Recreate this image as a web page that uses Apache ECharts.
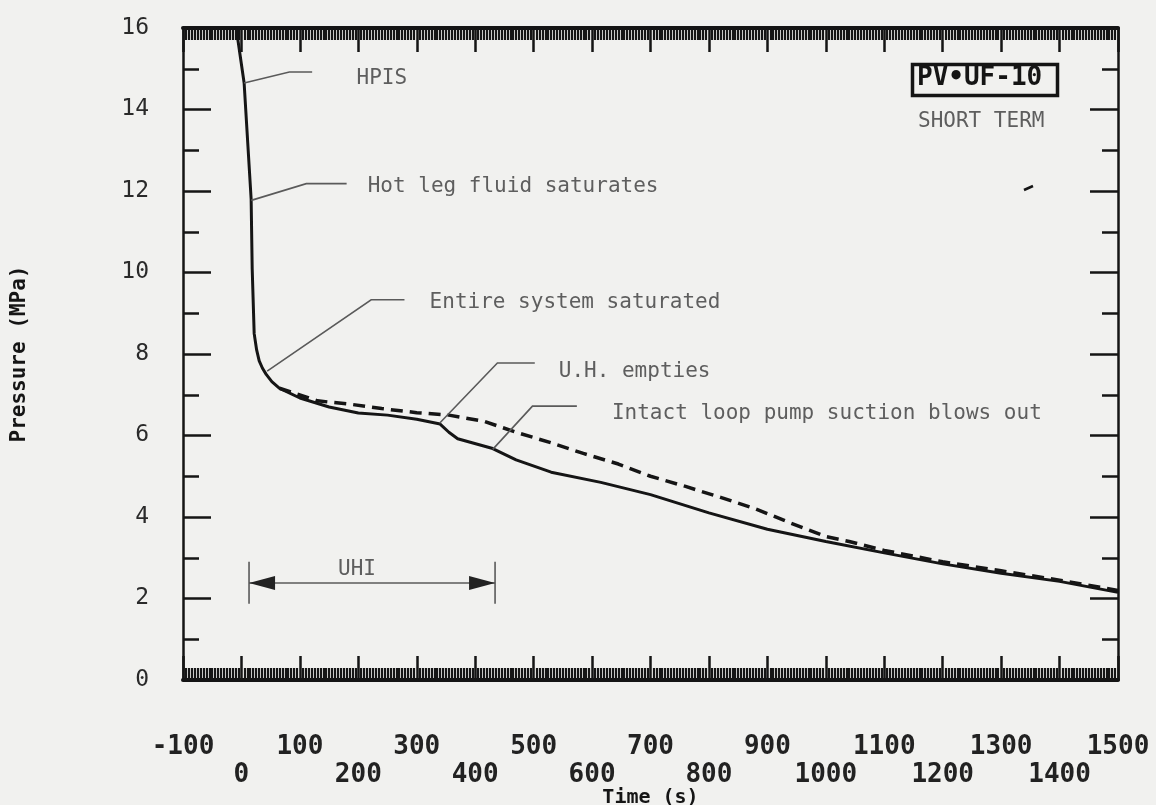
<!DOCTYPE html>
<html>
<head>
<meta charset="utf-8">
<script src="https://cdn.jsdelivr.net/npm/echarts@6/dist/echarts.min.js"></script>
<style>
html,body{margin:0;padding:0;background:#f1f1ef;}
#chart{width:1156px;height:805px;}
</style>
</head>
<body>
<div id="chart"></div>
<script>
// ---- data ----
const timeSolid = [-9, 4.6, 16.6, 18.4, 21.8, 26, 30.4, 36, 42.4, 52, 64.7, 100, 150, 200, 250, 300, 340, 355, 370, 430, 470, 530, 615, 700, 800, 900, 1000, 1100, 1200, 1300, 1400, 1500];
const presSolid = [16.0, 14.65, 11.8, 10.1, 8.5, 8.1, 7.83, 7.65, 7.5, 7.32, 7.16, 6.92, 6.7, 6.55, 6.5, 6.4, 6.28, 6.08, 5.92, 5.68, 5.4, 5.1, 4.85, 4.55, 4.1, 3.7, 3.4, 3.12, 2.85, 2.62, 2.42, 2.15];
const timeDashed = [65, 130, 185, 240, 300, 355, 415, 470, 530, 585, 645, 700, 760, 820, 880, 940, 1000, 1040, 1100, 1200, 1300, 1400, 1500];
const presDashed = [7.16, 6.85, 6.77, 6.66, 6.56, 6.5, 6.35, 6.08, 5.82, 5.56, 5.3, 5.0, 4.75, 4.48, 4.2, 3.85, 3.52, 3.4, 3.18, 2.9, 2.68, 2.45, 2.2];

const xMin = -100, xMax = 1500, xStep = 100;
const yMin = 0, yMax = 16, yStep = 2;

const annoLabels = ['HPIS', 'Hot leg fluid saturates', 'Entire system saturated', 'U.H. empties', 'Intact loop pump suction blows out'];
const annoLeaders = [
  [[4.6, 14.65], [82, 14.92], [121, 14.92]],
  [[16.8, 11.77], [111, 12.18], [180, 12.18]],
  [[44, 7.58], [222, 9.33], [279, 9.33]],
  [[339, 6.3], [438, 7.78], [502, 7.78]],
  [[430, 5.66], [498, 6.72], [574, 6.72]]
];
const annoAnchors = [[197, 14.77], [216, 12.11], [322, 9.26], [543, 7.58], [634, 6.55]];

const uhiLabel = 'UHI';
const uhiStart = 13, uhiEnd = 434, uhiLevel = 2.38, uhiBarTop = 2.9, uhiBarBottom = 1.87, uhiTextLevel = 2.7;

const boxLabel = 'PV•UF-10';
const subLabel = 'SHORT TERM';

// ---- chart ----
const chart = echarts.init(document.getElementById('chart'));
const ink = '#151515';
const gray = '#5a5a5a';
const mono = '"DejaVu Sans Mono", "Liberation Mono", monospace';

const solid = timeSolid.map((t, i) => [t, presSolid[i]]);
const dashed = timeDashed.map((t, i) => [t, presDashed[i]]);

const isOddHundred = v => Math.round(v / 100) % 2 !== 0;
const xLabelStyle = { color: '#222', fontFamily: mono, fontWeight: 'bold', fontSize: 26, showMinLabel: true, showMaxLabel: true, hideOverlap: false };

function xAxisCfg(pos, labels) {
  return {
    type: 'value', position: pos, min: xMin, max: xMax, interval: xStep,
    axisLine: { show: true, onZero: false, lineStyle: { color: ink, width: 4 } },
    axisTick: { show: true, inside: true, length: 24, lineStyle: { color: ink, width: 2.5 } },
    minorTick: { show: true, splitNumber: 20, length: 12, lineStyle: { color: ink, width: 2.2 } },
    splitLine: { show: false },
    axisLabel: labels ? Object.assign({ show: true, margin: 54, formatter: v => isOddHundred(v) ? String(v) : '' }, xLabelStyle) : { show: false },
    name: labels ? 'Time (s)' : '', nameLocation: 'middle', nameGap: 108, nameMoveOverlap: false,
    nameTextStyle: { color: ink, fontFamily: mono, fontWeight: 'bold', fontSize: 20 }
  };
}
const xAxisRow2 = {
  type: 'value', position: 'bottom', min: xMin, max: xMax, interval: xStep,
  axisLine: { show: false, onZero: false }, axisTick: { show: false }, minorTick: { show: false }, splitLine: { show: false },
  axisLabel: Object.assign({ show: true, margin: 82, formatter: v => isOddHundred(v) ? '' : String(v) }, xLabelStyle)
};
function yAxisCfg(pos, labels) {
  return {
    type: 'value', position: pos, min: yMin, max: yMax, interval: yStep,
    axisLine: { show: true, onZero: false, lineStyle: { color: ink, width: 2.5 } },
    axisTick: { show: true, inside: true, length: 28, lineStyle: { color: ink, width: 2.5 } },
    minorTick: { show: true, splitNumber: 2, length: 16, lineStyle: { color: ink, width: 2.5 } },
    splitLine: { show: false },
    axisLabel: labels ? { show: true, margin: 34, showMinLabel: true, showMaxLabel: true, color: '#2a2a2a', fontFamily: mono, fontSize: 23 } : { show: false },
    name: labels ? 'Pressure (MPa)' : '', nameLocation: 'middle', nameGap: 153, nameRotate: 90, nameMoveOverlap: false,
    nameTextStyle: { color: ink, fontFamily: mono, fontWeight: 'bold', fontSize: 21 }
  };
}

const option = {
  backgroundColor: '#f1f1ef',
  animation: false,
  grid: { left: 183, right: 38, top: 28, bottom: 125, containLabel: false, outerBoundsMode: 'none' },
  xAxis: [xAxisCfg('bottom', true), xAxisCfg('top', false), xAxisRow2],
  yAxis: [yAxisCfg('left', true), yAxisCfg('right', false)],
  series: [
    {
      type: 'line', data: solid, symbol: 'none', xAxisIndex: 0, yAxisIndex: 0,
      lineStyle: { color: ink, width: 3 }, z: 3
    },
    {
      type: 'line', data: dashed, symbol: 'none', xAxisIndex: 0, yAxisIndex: 0,
      lineStyle: { color: ink, width: 3.5, type: [12, 7] }, z: 3
    },
    {
      type: 'custom', xAxisIndex: 0, yAxisIndex: 0, data: annoAnchors, z: 4,
      renderItem: function (params, api) {
        const i = params.dataIndex;
        const pts = annoLeaders[i].map(p => api.coord(p));
        const a = api.coord(annoAnchors[i]);
        return {
          type: 'group',
          children: [
            { type: 'polyline', shape: { points: pts }, style: { stroke: gray, lineWidth: 1.6, fill: null } },
            { type: 'text', style: { text: annoLabels[i], x: a[0], y: a[1], fill: '#5e5e5e', font: '21px ' + mono, align: 'left', verticalAlign: 'middle' } }
          ]
        };
      }
    },
    {
      type: 'custom', xAxisIndex: 0, yAxisIndex: 0, data: [[uhiStart, uhiLevel]], z: 4,
      renderItem: function (params, api) {
        const L = api.coord([uhiStart, uhiLevel]);
        const R = api.coord([uhiEnd, uhiLevel]);
        const top = api.coord([uhiStart, uhiBarTop])[1];
        const bot = api.coord([uhiStart, uhiBarBottom])[1];
        const t = api.coord([(uhiStart + uhiEnd) / 2, uhiTextLevel]);
        const hl = 26, hw = 7;
        return {
          type: 'group',
          children: [
            { type: 'line', shape: { x1: L[0], y1: top, x2: L[0], y2: bot }, style: { stroke: gray, lineWidth: 1.6 } },
            { type: 'line', shape: { x1: R[0], y1: top, x2: R[0], y2: bot }, style: { stroke: gray, lineWidth: 1.6 } },
            { type: 'line', shape: { x1: L[0], y1: L[1], x2: R[0], y2: R[1] }, style: { stroke: gray, lineWidth: 1.6 } },
            { type: 'polygon', shape: { points: [[L[0], L[1]], [L[0] + hl, L[1] - hw], [L[0] + hl, L[1] + hw]] }, style: { fill: '#222' } },
            { type: 'polygon', shape: { points: [[R[0], R[1]], [R[0] - hl, R[1] - hw], [R[0] - hl, R[1] + hw]] }, style: { fill: '#222' } },
            { type: 'text', style: { text: uhiLabel, x: t[0] - 15, y: t[1], fill: '#5e5e5e', font: '21px ' + mono, align: 'center', verticalAlign: 'middle' } }
          ]
        };
      }
    }
  ],
  graphic: [
    { type: 'rect', left: 910, top: 62, shape: { width: 145, height: 31 }, style: { fill: 'none', stroke: ink, lineWidth: 3.5 }, z: 10 },
    { type: 'text', left: 917, top: 65, style: { text: boxLabel, fill: ink, font: 'bold 26px ' + mono }, z: 10 },
    { type: 'text', left: 918, top: 111, style: { text: subLabel, fill: '#5e5e5e', font: '21px ' + mono }, z: 10 },
    { type: 'line', shape: { x1: 1024, y1: 190, x2: 1033, y2: 186 }, style: { stroke: ink, lineWidth: 2.5 }, z: 10 }
  ]
};
chart.setOption(option);
</script>
</body>
</html>
